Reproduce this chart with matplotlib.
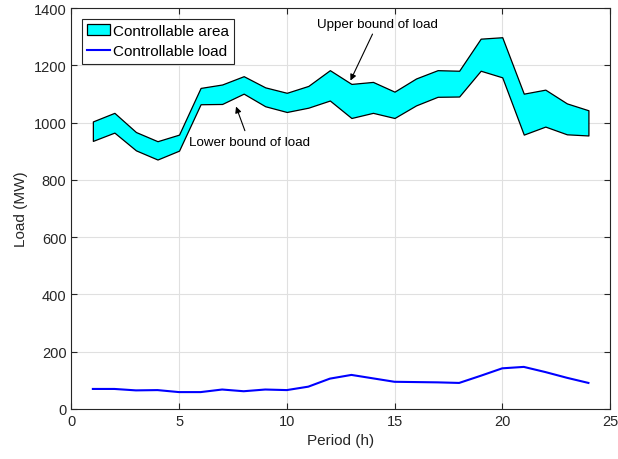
import matplotlib.pyplot as plt
import numpy as np

plt.rcParams["font.family"] = ["Liberation Sans", "DejaVu Sans"]

period = np.arange(1, 25)
upper = [1004, 1034, 967, 935, 958, 1121, 1133, 1162, 1123, 1104, 1128, 1183,
         1135, 1142, 1108, 1154, 1183, 1181, 1293, 1298, 1101, 1115, 1067, 1043]
lower = [936, 965, 903, 871, 902, 1064, 1065, 1101, 1057, 1037, 1052, 1077,
         1016, 1034, 1016, 1060, 1090, 1091, 1181, 1158, 958, 986, 959, 955]
load = [70, 70, 65, 66, 59, 59, 68, 62, 68, 66, 78, 106,
        119, 107, 95, 94, 93, 91, 116, 142, 147, 129, 109, 91]

fig = plt.figure(figsize=(6.18, 4.6), dpi=100)
ax = fig.add_axes([0.1154, 0.1087, 0.8716, 0.8717])

ax.fill_between(period, lower, upper, facecolor="#00ffff", edgecolor="black",
                linewidth=0.9, label="Controllable area")
ax.plot(period, load, color="#0000ff", lw=1.5, label="Controllable load")

ax.set_xlim(0, 25)
ax.set_ylim(0, 1400)
ax.set_xticks(range(0, 26, 5))
ax.set_yticks(range(0, 1401, 200))
ax.grid(True, color="#e0e0e0", lw=0.8)
ax.set_axisbelow(True)
ax.tick_params(direction="in", labelsize=10.5, length=4, color="#262626",
               labelcolor="#262626", top=True, right=True)
for s in ax.spines.values():
    s.set_color("#262626")
    s.set_linewidth(0.8)

ax.set_xlabel("Period (h)", fontsize=11, color="#262626")
ax.set_ylabel("Load (MW)", fontsize=11, color="#262626")

ax.annotate("Upper bound of load", xy=(12.9, 1138), xytext=(14.2, 1344),
            ha="center", va="center", fontsize=9.6,
            arrowprops=dict(arrowstyle="-|>", color="black", lw=0.8,
                            shrinkA=1, mutation_scale=9))
ax.annotate("Lower bound of load", xy=(7.6, 1065), xytext=(8.25, 932),
            ha="center", va="center", fontsize=9.6,
            arrowprops=dict(arrowstyle="-|>", color="black", lw=0.8,
                            shrinkA=2, mutation_scale=9))

leg = ax.legend(loc="upper left", fontsize=11, fancybox=False,
                edgecolor="#262626", framealpha=1, borderpad=0.35,
                handlelength=1.45, handletextpad=0.2, labelspacing=0.4,
                borderaxespad=0.7)
leg.get_frame().set_linewidth(0.8)

fig.savefig("out.png", dpi=100)
